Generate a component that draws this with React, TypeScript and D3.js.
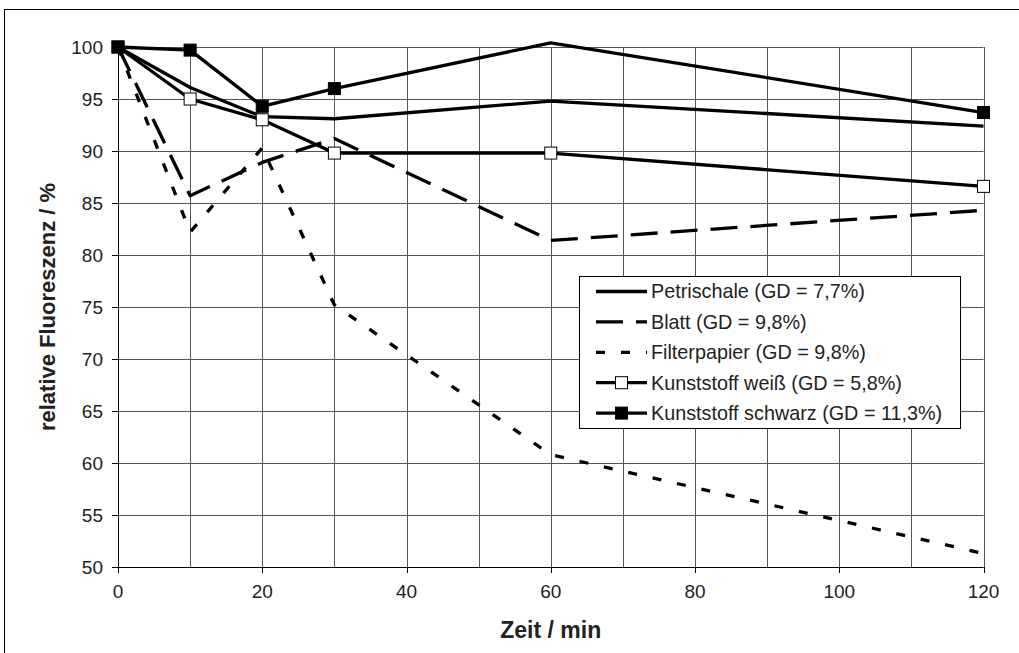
import React from "react";
import * as d3 from "d3";

const times = [0, 10, 20, 30, 60, 120];
const petrischale = [100, 96.1, 93.3, 93.1, 94.8, 92.4];
const blatt = [100, 85.7, 88.9, 91.2, 81.4, 84.3];
const filterpapier = [100, 82.2, 90.3, 75.2, 60.8, 51.3];
const kunststoffWeiss = [100, 95.0, 93.0, 89.8, 89.8, 86.6];
const kunststoffSchwarz = [100, 99.7, 94.3, 96.0, 100.4, 93.7];

const xTicks = [0, 20, 40, 60, 80, 100, 120];
const xGrid = d3.range(0, 121, 10);
const yTicks = [50, 55, 60, 65, 70, 75, 80, 85, 90, 95, 100];

const seriesNames = [
  "Petrischale (GD = 7,7%)",
  "Blatt (GD = 9,8%)",
  "Filterpapier (GD = 9,8%)",
  "Kunststoff weiß (GD = 5,8%)",
  "Kunststoff schwarz (GD = 11,3%)",
];

type Series = { name: string; values: number[]; dash?: string; marker?: "white" | "black" };

const series: Series[] = [
  { name: seriesNames[0], values: petrischale },
  { name: seriesNames[1], values: blatt, dash: "27,13" },
  { name: seriesNames[2], values: filterpapier, dash: "9,16" },
  { name: seriesNames[3], values: kunststoffWeiss, marker: "white" },
  { name: seriesNames[4], values: kunststoffSchwarz, marker: "black" },
];

const FONT = "'Liberation Sans', Arial, sans-serif";

export default function App() {
  const W = 1019, H = 653;
  const x = d3.scaleLinear().domain([0, 120]).range([118, 983.5]);
  const y = d3.scaleLinear().domain([50, 100]).range([567, 47]);
  const crisp = (v: number) => Math.round(v) + 0.5;
  const line = d3.line<[number, number]>().x((d) => x(d[0])).y((d) => y(d[1]));
  const ms = 12;

  const legX = 579.5, legY = 276.5, legW = 381, legH = 152;
  const rowH = 30.4;

  return (
    <svg width={W} height={H} style={{ position: "absolute", left: 0, top: 0, background: "#fff" }} fontFamily={FONT}>
      <rect x={4.5} y={9.5} width={W + 10} height={H + 10} fill="#fff" stroke="#000" strokeWidth={1} />
      {/* grid */}
      {xGrid.map((t) => (
        <line key={"gx" + t} x1={crisp(x(t))} x2={crisp(x(t))} y1={y(100)} y2={y(50)} stroke="#555" strokeWidth={1} />
      ))}
      {yTicks.map((t) => (
        <line key={"gy" + t} x1={x(0)} x2={x(120)} y1={crisp(y(t))} y2={crisp(y(t))} stroke="#555" strokeWidth={1} />
      ))}
      {/* axes */}
      <line x1={crisp(x(0))} x2={crisp(x(0))} y1={y(100)} y2={y(50)} stroke="#000" strokeWidth={1} />
      <line x1={x(0) - 6} x2={x(120)} y1={crisp(y(50))} y2={crisp(y(50))} stroke="#000" strokeWidth={1} />
      {yTicks.map((t) => (
        <g key={"yt" + t}>
          <line x1={x(0) - 6} x2={x(0)} y1={crisp(y(t))} y2={crisp(y(t))} stroke="#000" />
          <text x={103} y={y(t)} dy="0.35em" textAnchor="end" fontSize={19} fill="#222">{t}</text>
        </g>
      ))}
      {xTicks.map((t) => (
        <g key={"xt" + t}>
          <line x1={crisp(x(t))} x2={crisp(x(t))} y1={y(50)} y2={y(50) + 6} stroke="#000" />
          <text x={x(t)} y={y(50) + 31} textAnchor="middle" fontSize={19} fill="#222">{t}</text>
        </g>
      ))}
      <text x={(x(0) + x(120)) / 2} y={638} textAnchor="middle" fontSize={23} fontWeight="bold" fill="#222">Zeit / min</text>
      <text transform={`translate(55,${(y(100) + y(50)) / 2}) rotate(-90)`} textAnchor="middle" fontSize={22} fontWeight="bold" fill="#222">relative Fluoreszenz / %</text>
      {/* series */}
      {series.map((s) => (
        <path
          key={s.name}
          d={line(times.map((t, i) => [t, s.values[i]] as [number, number])) || ""}
          fill="none"
          stroke="#000"
          strokeWidth={3.3}
          strokeDasharray={s.dash}
          strokeLinejoin="round"
        />
      ))}
      {series.filter((s) => s.marker).map((s) =>
        times.map((t, i) =>
          s.values[i] <= 100 ? (
            <rect key={s.name + t} x={x(t) - ms / 2} y={y(s.values[i]) - ms / 2} width={ms} height={ms}
              fill={s.marker === "white" ? "#fff" : "#000"} stroke="#000" strokeWidth={1} />
          ) : null
        )
      )}
      {/* legend */}
      <rect x={legX} y={legY} width={legW} height={legH} fill="#fff" stroke="#000" strokeWidth={1} />
      {series.map((s, i) => {
        const cy = legY + 15 + i * rowH;
        return (
          <g key={"lg" + s.name}>
            <line x1={596} x2={647} y1={cy} y2={cy} stroke="#000" strokeWidth={3.3} strokeDasharray={s.dash} />
            {s.marker && (
              <rect x={621.5 - ms / 2} y={cy - ms / 2} width={ms} height={ms} fill={s.marker === "white" ? "#fff" : "#000"} stroke="#000" />
            )}
            <text x={651} y={cy} dy="0.35em" fontSize={19.8} fill="#222">{s.name}</text>
          </g>
        );
      })}
    </svg>
  );
}
